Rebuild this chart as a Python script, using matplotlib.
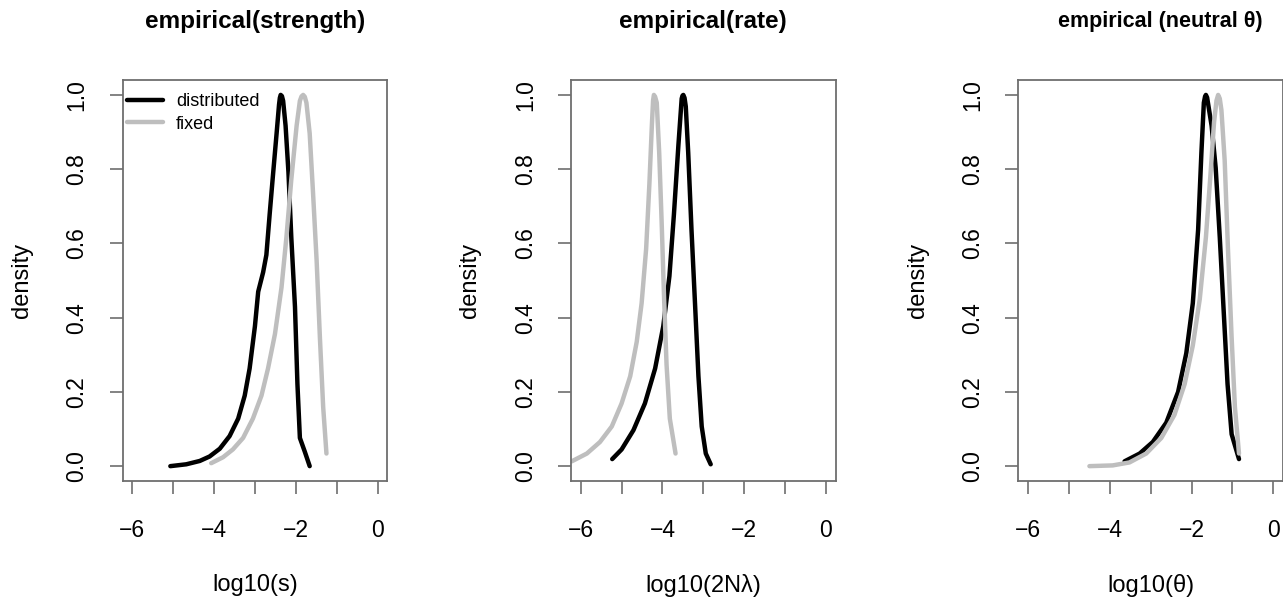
import matplotlib
matplotlib.use('Agg')
import matplotlib.pyplot as plt

plt.rcParams['font.family'] = ['Liberation Sans', 'DejaVu Sans']

# ---- data (log10 value, scaled density) ---------------------------------
titles = ['empirical(strength)', 'empirical(rate)', 'empirical (neutral \u03b8)']
xlabels = ['log10(s)', 'log10(2N\u03bb)', 'log10(\u03b8)']

strength_dist_x = [-5.07, -4.68, -4.35, -4.11, -3.86, -3.62, -3.41, -3.25, -3.13, -3.00,
                   -2.92, -2.80, -2.72, -2.64, -2.56, -2.47, -2.41, -2.39, -2.37, -2.34,
                   -2.31, -2.25, -2.18, -2.11, -2.02, -1.96, -1.90, -1.78, -1.66]
strength_dist_y = [0.000, 0.005, 0.014, 0.026, 0.047, 0.081, 0.128, 0.190, 0.263, 0.377,
                   0.470, 0.522, 0.569, 0.678, 0.782, 0.896, 0.974, 0.992, 1.000, 0.997,
                   0.984, 0.917, 0.792, 0.616, 0.429, 0.221, 0.076, 0.039, 0.000]
strength_fixed_x = [-4.07, -3.78, -3.54, -3.29, -3.05, -2.84, -2.68, -2.51, -2.35, -2.23,
                    -2.11, -1.98, -1.90, -1.86, -1.82, -1.78, -1.74, -1.66, -1.58, -1.49,
                    -1.41, -1.33, -1.25]
strength_fixed_y = [0.008, 0.024, 0.045, 0.076, 0.128, 0.190, 0.263, 0.356, 0.481, 0.616,
                    0.772, 0.917, 0.984, 0.996, 1.000, 0.995, 0.979, 0.896, 0.740, 0.553,
                    0.346, 0.159, 0.034]

rate_dist_x = [-5.23, -5.00, -4.71, -4.43, -4.18, -3.98, -3.83, -3.72, -3.61, -3.53,
               -3.51, -3.49, -3.46, -3.43, -3.37, -3.29, -3.20, -3.12, -3.04, -2.94, -2.82]
rate_dist_y = [0.019, 0.045, 0.097, 0.169, 0.263, 0.377, 0.512, 0.678, 0.865, 0.990,
               0.998, 1.000, 0.992, 0.969, 0.844, 0.637, 0.429, 0.242, 0.107, 0.034, 0.005]
rate_fixed_x = [-6.22, -5.85, -5.53, -5.24, -5.00, -4.79, -4.63, -4.51, -4.40, -4.32,
                -4.26, -4.23, -4.21, -4.18, -4.14, -4.08, -4.02, -3.96, -3.90, -3.82, -3.68]
rate_fixed_y = [0.013, 0.034, 0.065, 0.107, 0.169, 0.242, 0.335, 0.439, 0.585, 0.761,
                0.917, 0.985, 1.000, 0.995, 0.979, 0.844, 0.657, 0.450, 0.273, 0.128, 0.034]

theta_dist_x = [-3.64, -3.27, -2.95, -2.62, -2.33, -2.13, -1.97, -1.84, -1.76, -1.70,
                -1.67, -1.65, -1.62, -1.60, -1.51, -1.41, -1.31, -1.21, -1.12, -1.02, -0.84]
theta_dist_y = [0.013, 0.034, 0.065, 0.117, 0.200, 0.304, 0.439, 0.637, 0.844, 0.979,
                0.996, 1.000, 0.993, 0.979, 0.917, 0.803, 0.616, 0.408, 0.221, 0.086, 0.019]
theta_fixed_x = [-4.50, -3.93, -3.52, -3.11, -2.74, -2.42, -2.17, -1.97, -1.80, -1.65,
                 -1.54, -1.45, -1.39, -1.35, -1.31, -1.27, -1.19, -1.11, -1.02, -0.94, -0.84]
theta_fixed_y = [0.000, 0.002, 0.010, 0.034, 0.076, 0.138, 0.221, 0.325, 0.450, 0.616,
                 0.782, 0.927, 0.985, 1.000, 0.990, 0.959, 0.823, 0.585, 0.346, 0.159, 0.034]

dist_x = [strength_dist_x, rate_dist_x, theta_dist_x]
dist_y = [strength_dist_y, rate_dist_y, theta_dist_y]
fixed_x = [strength_fixed_x, rate_fixed_x, theta_fixed_x]
fixed_y = [strength_fixed_y, rate_fixed_y, theta_fixed_y]

xticks = [-6, -5, -4, -3, -2, -1, 0]
xticklabels = ['\u22126', '', '\u22124', '', '\u22122', '', '0']
yticks = [0.0, 0.2, 0.4, 0.6, 0.8, 1.0]

# ---- figure ----------------------------------------------------------------
fig = plt.figure(figsize=(12.83, 6.02), dpi=100)
lefts = [0.0955, 0.4450, 0.7937]
title_x = [0.199, 0.548, 0.904]
title_size = [17.5, 17.5, 15.5]
axis_col = '#6e6e6e'

for i in range(3):
    ax = fig.add_axes([lefts[i], 0.201, 0.2064, 0.666])
    ax.plot(dist_x[i], dist_y[i], color='black', lw=3.2, label='distributed',
            solid_capstyle='round', solid_joinstyle='round')
    ax.plot(fixed_x[i], fixed_y[i], color='#bebebe', lw=3.2, label='fixed',
            solid_capstyle='round', solid_joinstyle='round')
    ax.set_xlim(-6.24, 0.24)
    ax.set_ylim(-0.04, 1.04)
    ax.set_xticks(xticks)
    ax.set_xticklabels(xticklabels)
    ax.set_yticks(yticks)
    ax.set_yticklabels(['%.1f' % v for v in yticks], rotation=90, va='center')
    ax.tick_params(direction='out', length=9.5, width=1.2, color=axis_col,
                   labelsize=16.5)
    ax.tick_params(axis='x', pad=18)
    ax.tick_params(axis='y', pad=15)
    for sp in ax.spines.values():
        sp.set_color(axis_col)
        sp.set_linewidth(1.3)
    ax.set_xlabel(xlabels[i], fontsize=17, va='center')
    ax.xaxis.set_label_coords(0.5, -0.26)
    ax.set_ylabel('density', fontsize=17, va='center')
    ax.yaxis.set_label_coords(-0.38, 0.5)
    fig.text(title_x[i], 0.9635, titles[i], fontsize=title_size[i], fontweight='bold',
             ha='center', va='center')
    if i == 0:
        ax.legend(loc='upper left', bbox_to_anchor=(-0.01, 0.985), frameon=False,
                  fontsize=13, handlelength=2.0, handletextpad=0.7,
                  labelspacing=0.3, borderpad=0.4, borderaxespad=0.0)

plt.savefig('out.png', dpi=100)
